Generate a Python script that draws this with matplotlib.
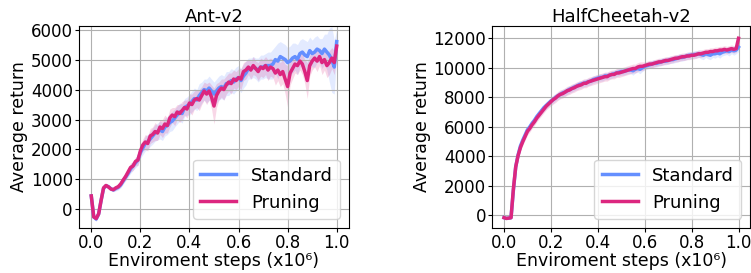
import numpy as np
import matplotlib
matplotlib.use('Agg')
import matplotlib.pyplot as plt

# training steps, in units of 1e6
steps = np.linspace(0.0, 1.0, 101)

# Ant-v2 average return (every 0.01)
ant_standard = [
    450, -250, -320, -150, 300, 700, 790, 760, 690, 650,
    700, 740, 820, 950, 1080, 1200, 1350, 1450, 1550, 1650,
    1900, 2050, 2200, 2250, 2350, 2450, 2550, 2600, 2650, 2600,
    2750, 2800, 2900, 2950, 3050, 3150, 3250, 3200, 3400, 3450,
    3500, 3600, 3700, 3650, 3800, 3900, 4000, 3950, 4050, 3950,
    3850, 3950, 4050, 4100, 4050, 4200, 4200, 4300, 4250, 4350,
    4400, 4300, 4450, 4550, 4700, 4700, 4750, 4700, 4650, 4750,
    4750, 4800, 4800, 4800, 4850, 5000, 4950, 5100, 5050, 5000,
    4900, 4950, 5050, 5100, 5000, 5200, 5250, 5150, 5100, 5300,
    5200, 5250, 5350, 5300, 5200, 5350, 5250, 5150, 5000, 4750,
    5600,
]
ant_standard_std = [
    60, 80, 80, 80, 80, 60, 60, 60, 60, 60,
    80, 90, 100, 110, 120, 130, 150, 150, 160, 180,
    200, 220, 250, 250, 250, 270, 280, 280, 300, 300,
    300, 300, 300, 320, 300, 300, 300, 320, 300, 300,
    350, 350, 350, 350, 400, 350, 350, 400, 400, 400,
    400, 400, 400, 400, 400, 400, 400, 400, 400, 400,
    400, 400, 400, 400, 350, 350, 350, 350, 400, 400,
    400, 400, 450, 450, 500, 450, 600, 500, 500, 500,
    500, 500, 500, 450, 500, 450, 450, 500, 500, 450,
    450, 500, 450, 400, 500, 500, 600, 900, 1100, 900,
    400,
]
ant_pruning = [
    450, -250, -300, -150, 300, 720, 800, 750, 680, 660,
    720, 760, 850, 980, 1100, 1250, 1400, 1450, 1600, 1650,
    1950, 2150, 2250, 2200, 2450, 2500, 2600, 2550, 2750, 2700,
    2850, 2800, 3050, 3150, 3100, 3250, 3200, 3300, 3400, 3350,
    3550, 3500, 3650, 3700, 3650, 3800, 3950, 3850, 3950, 3750,
    3450, 3800, 3950, 4050, 4000, 4150, 4250, 4200, 4350, 4300,
    4400, 4350, 4600, 4650, 4750, 4650, 4800, 4700, 4600, 4750,
    4700, 4800, 4650, 4750, 4700, 4550, 4650, 4500, 4600, 4350,
    4100, 4550, 4700, 4850, 4800, 4950, 4850, 4600, 4300, 4800,
    4950, 5050, 4950, 5100, 4900, 5000, 4800, 4900, 5050, 4900,
    5450,
]
ant_pruning_std = [
    60, 80, 80, 80, 80, 60, 60, 60, 60, 60,
    80, 80, 100, 100, 120, 120, 150, 150, 150, 180,
    200, 200, 250, 250, 250, 250, 300, 250, 250, 300,
    300, 250, 300, 250, 300, 250, 300, 300, 250, 300,
    300, 350, 300, 300, 350, 300, 300, 350, 300, 400,
    600, 400, 300, 300, 350, 300, 300, 350, 300, 300,
    300, 350, 300, 300, 250, 300, 300, 250, 300, 300,
    300, 300, 350, 300, 300, 400, 350, 400, 400, 500,
    700, 400, 350, 300, 300, 300, 350, 400, 600, 350,
    300, 300, 350, 300, 400, 350, 400, 400, 350, 400,
    300,
]

# HalfCheetah-v2 average return
hc_standard = [
    -150, -200, -180, -150, 1700, 3300, 4100, 4700, 5100, 5450,
    5800, 6000, 6250, 6450, 6700, 6900, 7100, 7300, 7450, 7600,
    7750, 7850, 8000, 8100, 8200, 8300, 8350, 8450, 8550, 8600,
    8700, 8750, 8850, 8900, 8950, 9000, 9050, 9100, 9200, 9250,
    9300, 9350, 9350, 9450, 9450, 9500, 9550, 9600, 9650, 9700,
    9750, 9750, 9800, 9850, 9850, 9800, 9900, 9950, 9900, 10000,
    10100, 10150, 10200, 10250, 10300, 10300, 10350, 10400, 10450, 10450,
    10500, 10550, 10550, 10600, 10650, 10700, 10700, 10750, 10800, 10850,
    10850, 10900, 10900, 10950, 10900, 10850, 10950, 10900, 10850, 10950,
    10950, 11000, 10950, 11050, 11100, 11150, 11100, 11200, 11150, 11200,
    11400,
]
hc_standard_std = [
    80, 80, 80, 100, 200, 250, 250, 250, 250, 250,
    250, 250, 250, 250, 250, 250, 250, 250, 250, 250,
    250, 250, 250, 250, 250, 250, 250, 250, 250, 250,
    250, 250, 250, 250, 250, 250, 250, 250, 250, 250,
    250, 250, 250, 250, 250, 250, 250, 250, 250, 250,
    250, 250, 250, 250, 250, 300, 250, 250, 300, 250,
    250, 250, 250, 250, 250, 250, 250, 250, 250, 250,
    250, 250, 250, 250, 250, 250, 250, 250, 250, 250,
    250, 250, 250, 250, 300, 300, 250, 300, 300, 250,
    300, 250, 300, 250, 250, 250, 300, 250, 300, 250,
    300,
]
hc_pruning = [
    -150, -200, -180, -150, 1800, 3300, 4050, 4600, 5000, 5350,
    5700, 5900, 6150, 6350, 6600, 6800, 7000, 7200, 7400, 7550,
    7700, 7850, 7950, 8100, 8200, 8250, 8350, 8450, 8500, 8600,
    8650, 8750, 8800, 8850, 8950, 8950, 9050, 9100, 9150, 9200,
    9250, 9300, 9350, 9400, 9400, 9500, 9550, 9550, 9650, 9650,
    9700, 9750, 9800, 9850, 9900, 9950, 9950, 10050, 10100, 10100,
    10150, 10200, 10250, 10250, 10300, 10350, 10400, 10400, 10450, 10500,
    10500, 10550, 10600, 10650, 10650, 10700, 10750, 10750, 10800, 10800,
    10850, 10850, 10900, 10950, 10950, 11000, 11050, 11050, 11100, 11100,
    11150, 11150, 11200, 11200, 11250, 11200, 11250, 11300, 11250, 11300,
    12000,
]
hc_pruning_std = [
    80, 80, 80, 100, 200, 250, 250, 250, 250, 250,
    250, 250, 250, 250, 250, 250, 250, 250, 250, 250,
    300, 300, 300, 300, 300, 300, 300, 300, 300, 300,
    300, 300, 300, 300, 300, 300, 300, 300, 300, 300,
    300, 300, 300, 300, 300, 300, 300, 300, 300, 300,
    300, 300, 300, 300, 300, 300, 300, 300, 300, 300,
    250, 250, 250, 250, 250, 250, 250, 250, 250, 250,
    250, 250, 250, 250, 250, 250, 250, 250, 250, 250,
    250, 250, 250, 250, 250, 250, 250, 250, 250, 250,
    250, 250, 250, 250, 250, 250, 250, 250, 250, 250,
    300,
]

x_ticks = [0.0, 0.2, 0.4, 0.6, 0.8, 1.0]
ant_yticks = [0, 1000, 2000, 3000, 4000, 5000, 6000]
hc_yticks = [0, 2000, 4000, 6000, 8000, 10000, 12000]

BLUE = '#648FFF'
PINK = '#DC267F'


def draw(ax, title, standard, standard_std, pruning, pruning_std, yticks, ylim):
    for mean, std, color, label in [(standard, standard_std, BLUE, 'Standard'),
                                    (pruning, pruning_std, PINK, 'Pruning')]:
        mean = np.asarray(mean, dtype=float)
        std = np.asarray(std, dtype=float)
        ax.fill_between(steps, mean - std, mean + std, color=color, alpha=0.18, linewidth=0)
        ax.plot(steps, mean, color=color, linewidth=2.5, label=label)
    ax.set_title(title, fontsize=13, pad=3)
    ax.set_xlabel('Enviroment steps (x10\u2076)', fontsize=12.5, labelpad=0)
    ax.set_ylabel('Average return', fontsize=12.5, labelpad=2)
    ax.set_xticks(x_ticks)
    ax.set_xticklabels(['%.1f' % t for t in x_ticks])
    ax.set_yticks(yticks)
    ax.set_xlim(-0.05, 1.05)
    ax.set_ylim(*ylim)
    ax.tick_params(labelsize=12, pad=1.5, length=3)
    ax.grid(True)
    ax.legend(loc='lower right', fontsize=13)


fig = plt.figure(figsize=(7.51, 2.73), dpi=100)
ax1 = fig.add_axes([0.1052, 0.1648, 0.3595, 0.741])
ax2 = fig.add_axes([0.6555, 0.1648, 0.3435, 0.741])

draw(ax1, 'Ant-v2', ant_standard, ant_standard_std, ant_pruning, ant_pruning_std,
     ant_yticks, (-620, 6130))
draw(ax2, 'HalfCheetah-v2', hc_standard, hc_standard_std, hc_pruning, hc_pruning_std,
     hc_yticks, (-850, 12850))

fig.savefig('out.png', dpi=100)
